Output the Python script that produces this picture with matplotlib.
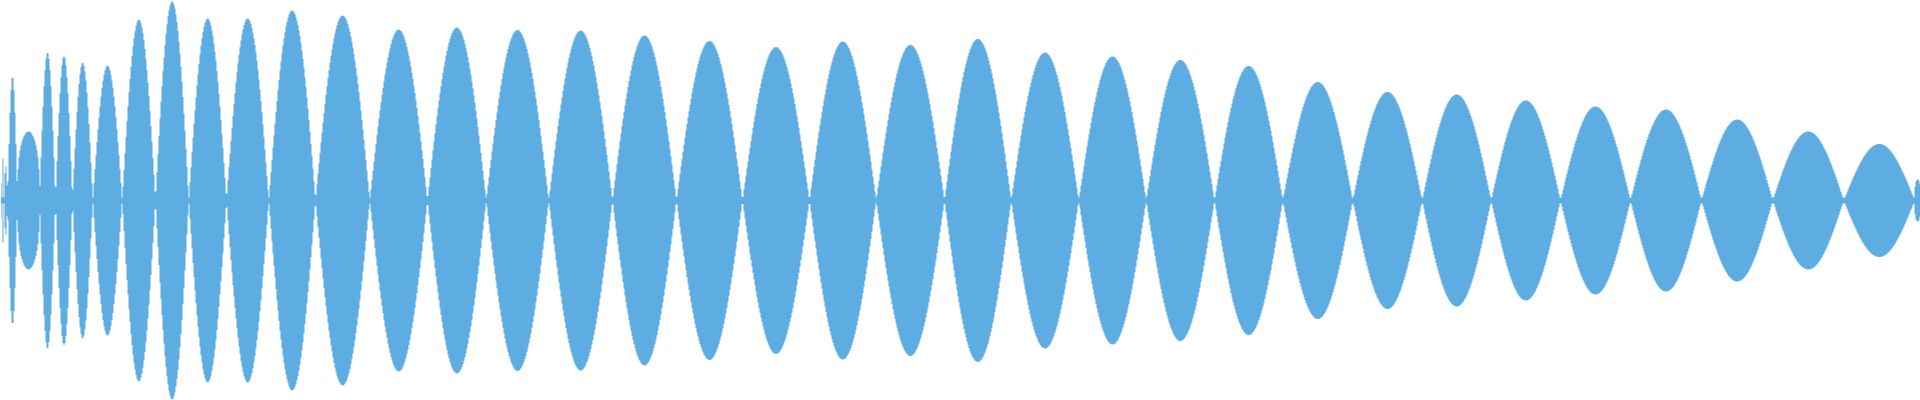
import numpy as np
import matplotlib
matplotlib.use("Agg")
import matplotlib.pyplot as plt

# Waveform envelope: lobe boundaries (sample index,
# 0..1920) and the half-height of each lobe (amplitude, full scale = 200).
nodes = [0, 1.5, 3.5, 7, 17, 39, 55, 72, 92.3, 121.7, 155, 188.3, 226,
         268.3, 315, 369.3, 427, 485.7, 548.3, 612, 676, 742, 809, 875.7,
         944, 1010.7, 1078.3, 1145.7, 1214, 1282.3, 1352.3, 1421.7, 1490.7,
         1560, 1630, 1701, 1772.3, 1843.3, 1914.3, 1920]
peaks = [20, 42, 35, 124, 69, 148, 145, 138, 135, 181, 199, 182, 182,
         190, 185, 171, 173, 170.5, 170, 165, 159.5, 153.5, 159, 155.5,
         161.5, 148, 144, 140.5, 134.5, 118.5, 108.5, 106, 100, 94, 91,
         81, 69, 56.5, 21]
# lobe roundness (1 = plain sine arch, <1 = flatter top)
shape = [1] * len(peaks)
shape[4] = 0.3
shape[-1] = 0.2

n_samples = 1920
floor = 3  # the trace never quite vanishes at the nodes

x = np.arange(n_samples) + 0.5
env = np.zeros(n_samples)
for a, b, amp, p in zip(nodes[:-1], nodes[1:], peaks, shape):
    m = (x >= a) & (x < b)
    env[m] = amp * np.sin(np.pi * (x[m] - a) / (b - a)) ** p
env = np.maximum(env, floor)

fig = plt.figure(figsize=(19.2, 4), dpi=100)
ax = fig.add_axes([0, 0, 1, 1])
ax.fill_between(x, -env, env, step="mid", color="#5dade2", lw=0,
                antialiased=False)
ax.set_xlim(0, n_samples)
ax.set_ylim(-200, 200)
ax.axis("off")
fig.savefig("out.png", dpi=100)
